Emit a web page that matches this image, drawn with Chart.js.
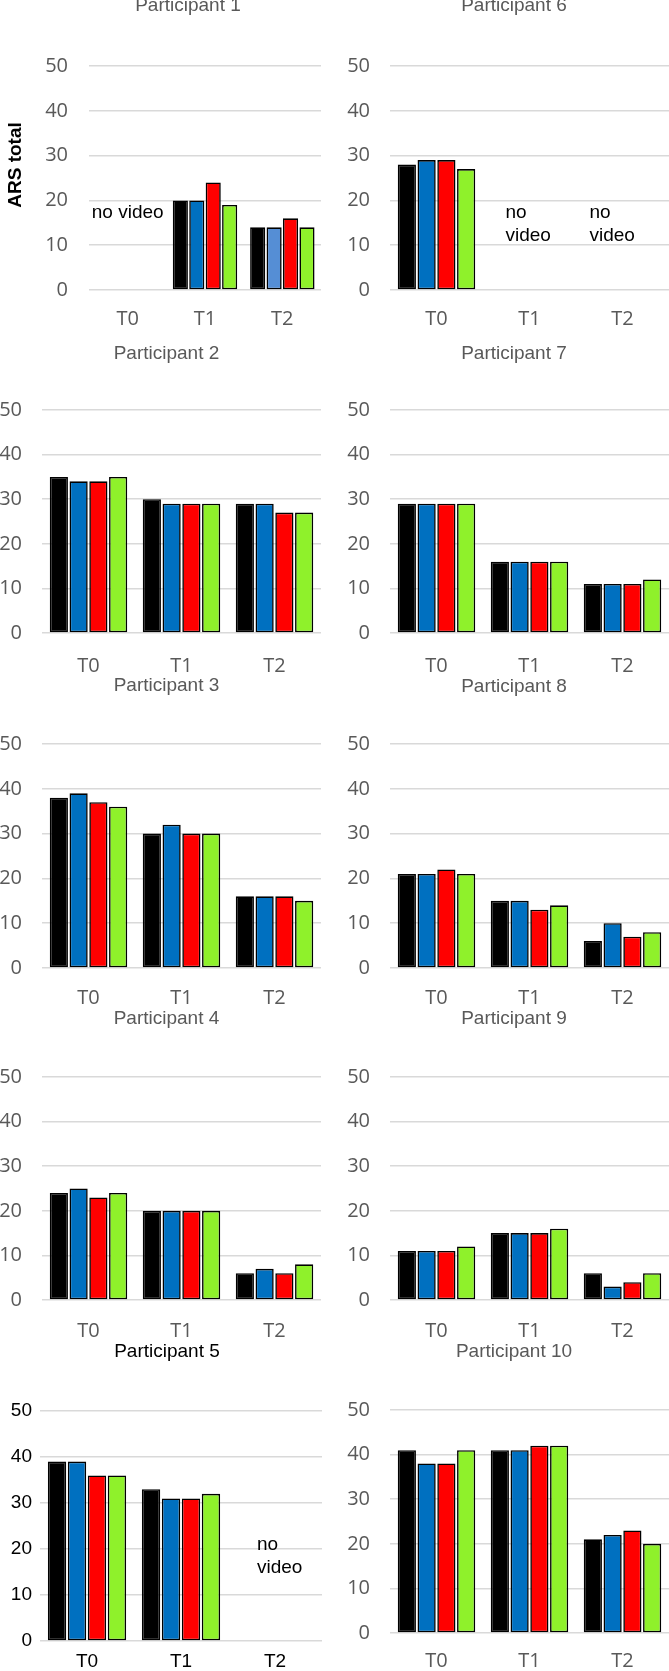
<!DOCTYPE html>
<html>
<head>
<meta charset="utf-8">
<script src="https://cdn.jsdelivr.net/npm/chart.js@4.4.1/dist/chart.umd.min.js"></script>
<style>
  html, body { margin: 0; padding: 0; background: #fff; }
  #page { position: relative; width: 669px; height: 1671px; overflow: hidden; background: #fff; }
  #page canvas { position: absolute; }
</style>
</head>
<body>
<div id="page"></div>
<script>
// time points and y ticks
const timePoints = ['T0', 'T1', 'T2'];
const yTicks = [0, 10, 20, 30, 40, 50];
const seriesNames = ['Series 1', 'Series 2', 'Series 3', 'Series 4'];
const seriesColors = ['#000000', '#0070C0', '#FF0000', '#8FF12B'];

// ARS total per participant: one row per series (black, blue, red, green), values at T0, T1, T2
const p1 = [[null, 20, 14], [null, 20, 14], [null, 24, 16], [null, 19, 14]];
const p2 = [[35, 30, 29], [34, 29, 29], [34, 29, 27], [35, 29, 27]];
const p3 = [[38, 30, 16], [39, 32, 16], [37, 30, 16], [36, 30, 15]];
const p4 = [[24, 20, 6], [25, 20, 7], [23, 20, 6], [24, 20, 8]];
const p5 = [[39, 33, null], [39, 31, null], [36, 31, null], [36, 32, null]];
const p6 = [[28, null, null], [29, null, null], [29, null, null], [27, null, null]];
const p7 = [[29, 16, 11], [29, 16, 11], [29, 16, 11], [29, 16, 12]];
const p8 = [[21, 15, 6], [21, 15, 10], [22, 13, 7], [21, 14, 8]];
const p9 = [[11, 15, 6], [11, 15, 3], [11, 15, 4], [12, 16, 6]];
const p10 = [[41, 41, 21], [38, 41, 22], [38, 42, 23], [41, 42, 20]];

const GRAY = '#595959';
const PAGE_H = 1671;

// layout of the ten panels (pixels on the page)
const panels = [
  { title: 'Participant 1', data: p1, col: 0, top: 0, plotLeft: 89, plotRight: 321, plotTop: 66, plotBottom: 290,
    titleX: 188, titleY: 11, xPad: 9, yPad: 21, axisTitle: 'ARS total',
    tint: { series: 1, index: 2, color: '#558ED5' },
    notes: [{ at: 'T0', level: 17.2, lines: ['no video'], align: 'center', dx: 0 }] },
  { title: 'Participant 6', data: p6, col: 1, top: 0, plotLeft: 390, plotRight: 669, plotTop: 66, plotBottom: 290,
    titleX: 514, titleY: 11, xPad: 9, yPad: 20,
    notes: [{ at: 'T1', level: 17.2, lines: ['no', 'video'], align: 'left', dx: -24 },
            { at: 'T2', level: 17.2, lines: ['no', 'video'], align: 'left', dx: -33 }] },
  { title: 'Participant 2', data: p2, col: 0, top: 334, plotLeft: 42, plotRight: 321, plotTop: 410, plotBottom: 633,
    titleX: 166.5, titleY: 358.5, xPad: 13, yPad: 20 },
  { title: 'Participant 7', data: p7, col: 1, top: 334, plotLeft: 390, plotRight: 669, plotTop: 410, plotBottom: 633,
    titleX: 514, titleY: 358.5, xPad: 13, yPad: 20 },
  { title: 'Participant 3', data: p3, col: 0, top: 667, plotLeft: 42, plotRight: 321, plotTop: 744, plotBottom: 968,
    titleX: 166.5, titleY: 690.5, xPad: 10, yPad: 20 },
  { title: 'Participant 8', data: p8, col: 1, top: 667, plotLeft: 390, plotRight: 669, plotTop: 744, plotBottom: 968,
    titleX: 514, titleY: 691.5, xPad: 10, yPad: 20 },
  { title: 'Participant 4', data: p4, col: 0, top: 1000, plotLeft: 42, plotRight: 321, plotTop: 1077, plotBottom: 1300,
    titleX: 166.5, titleY: 1023.5, xPad: 11, yPad: 20 },
  { title: 'Participant 9', data: p9, col: 1, top: 1000, plotLeft: 390, plotRight: 669, plotTop: 1077, plotBottom: 1300,
    titleX: 514, titleY: 1024, xPad: 11, yPad: 20 },
  { title: 'Participant 5', data: p5, col: 0, top: 1334, plotLeft: 40, plotRight: 322, plotTop: 1411, plotBottom: 1641,
    titleX: 167, titleY: 1357, xPad: 1, yPad: 8, dark: true,
    notes: [{ at: 'T2', level: 20.9, lines: ['no', 'video'], align: 'left', dx: -18 }] },
  { title: 'Participant 10', data: p10, col: 1, top: 1334, plotLeft: 390, plotRight: 669, plotTop: 1410, plotBottom: 1633,
    titleX: 514, titleY: 1357, xPad: 8, yPad: 20 }
];

// titles, "no video" notes and the y axis caption
const panelText = {
  id: 'panelText',
  afterDraw(chart, args, opts) {
    const ctx = chart.ctx;
    const xs = chart.scales.x, ys = chart.scales.y;
    ctx.save();
    ctx.font = '19px "Liberation Sans", Arial, sans-serif';
    ctx.fillStyle = opts.titleColor;
    ctx.textAlign = 'center';
    ctx.textBaseline = 'alphabetic';
    ctx.fillText(opts.title, opts.titleX, opts.titleY);

    ctx.fillStyle = '#000';
    ctx.textBaseline = 'middle';
    (opts.notes || []).forEach(n => {
      const px = xs.getPixelForValue(timePoints.indexOf(n.at)) + n.dx;
      const py = ys.getPixelForValue(n.level);
      ctx.textAlign = n.align;
      n.lines.forEach((t, i) => ctx.fillText(t, px, py + i * 23));
    });

    if (opts.axisTitle) {
      ctx.translate(16, 165);
      ctx.rotate(-Math.PI / 2);
      ctx.font = 'bold 19px "Liberation Sans", Arial, sans-serif';
      ctx.textAlign = 'center';
      ctx.fillText(opts.axisTitle, 0, 0);
    }
    ctx.restore();
  }
};

const page = document.getElementById('page');

panels.forEach(p => {
  const colX = p.col === 0 ? 0 : 334;
  const colW = p.col === 0 ? 334 : 335;
  const h = Math.min(p.plotBottom + 50, PAGE_H) - p.top;
  const canvas = document.createElement('canvas');
  canvas.width = colW;
  canvas.height = h;
  canvas.style.left = colX + 'px';
  canvas.style.top = p.top + 'px';
  page.appendChild(canvas);

  const tickColor = p.dark ? '#000' : GRAY;
  const tickFont = p.dark
    ? { family: '"Liberation Sans", Arial, sans-serif', size: 19 }
    : { family: '"Open Sans", sans-serif', size: 20 };

  const datasets = p.data.map((vals, s) => {
    let bg = seriesColors[s];
    if (p.tint && p.tint.series === s) {
      bg = vals.map((v, i) => i === p.tint.index ? p.tint.color : seriesColors[s]);
    }
    return {
      label: seriesNames[s],
      data: vals,
      backgroundColor: bg,
      borderColor: '#000',
      borderWidth: 1.6,
      borderSkipped: false,
      categoryPercentage: 0.85,
      barPercentage: 0.92
    };
  });

  new Chart(canvas.getContext('2d'), {
    type: 'bar',
    data: { labels: timePoints, datasets: datasets },
    plugins: [panelText],
    options: {
      responsive: false,
      animation: false,
      devicePixelRatio: 1,
      layout: {
        padding: { top: p.plotTop - p.top, right: colX + colW - p.plotRight, bottom: 0, left: 0 }
      },
      plugins: {
        legend: { display: false },
        tooltip: { enabled: false },
        panelText: {
          title: p.title,
          titleX: p.titleX - colX,
          titleY: p.titleY - p.top,
          titleColor: p.dark ? '#000' : GRAY,
          notes: p.notes,
          axisTitle: p.axisTitle
        }
      },
      scales: {
        x: {
          grid: { display: false },
          border: { display: false },
          ticks: { color: tickColor, font: tickFont, padding: p.xPad },
          afterFit: a => { a.height = h - (p.plotBottom - p.top); }
        },
        y: {
          min: yTicks[0],
          max: yTicks[yTicks.length - 1],
          grid: { color: '#D9D9D9', lineWidth: 1.5, drawTicks: false },
          border: { display: false },
          ticks: { color: tickColor, font: tickFont, padding: p.yPad },
          afterBuildTicks: a => { a.ticks = yTicks.map(v => ({ value: v })); },
          afterFit: a => { a.width = p.plotLeft - colX; }
        }
      }
    }
  });
});
</script>
</body>
</html>
